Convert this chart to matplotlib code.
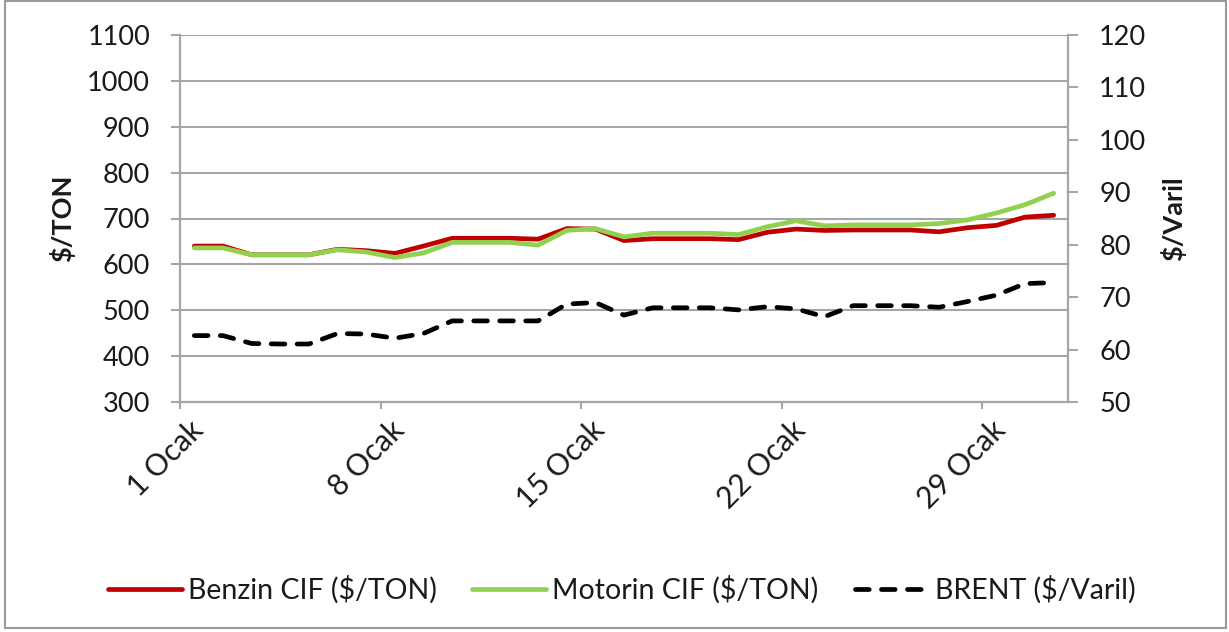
import matplotlib
matplotlib.use('Agg')
import matplotlib.pyplot as plt
import matplotlib.transforms as mtransforms
from matplotlib.patches import Rectangle
import numpy as np

# ---- data (January, daily) ----
days = list(range(1, 32))
benzin = [640, 640, 621, 621, 621, 633, 630, 624, 640, 657, 657, 657, 655, 678, 677,
          652, 656, 656, 656, 654, 670, 677, 674, 675, 675, 675, 671, 680, 685, 703, 707]
motorin = [636, 636, 621, 621, 621, 632, 627, 615, 625, 648, 648, 648, 642, 674, 678,
           660, 668, 668, 668, 665, 682, 695, 684, 686, 686, 686, 689, 697, 712, 730, 755]
brent = [62.7, 62.7, 61.2, 61.1, 61.1, 63.1, 63.0, 62.2, 63.1, 65.5, 65.5, 65.5, 65.5, 68.7, 69.0,
         66.6, 68.0, 68.0, 68.0, 67.6, 68.2, 67.8, 66.3, 68.4, 68.4, 68.4, 68.1, 69.2, 70.4, 72.6, 72.8]
tick_days = [1, 8, 15, 22, 29]
tick_labels = ["1 Ocak", "8 Ocak", "15 Ocak", "22 Ocak", "29 Ocak"]
series_names = ["Benzin CIF ($/TON)", "Motorin CIF ($/TON)", "BRENT ($/Varil)"]
left_ticks = list(range(300, 1101, 100))
right_ticks = list(range(50, 121, 10))

plt.rcParams['font.family'] = ['Lato', 'DejaVu Sans']
FS = 19.5
FSX = 21.5
FSL = 20.5
GRAY = '#a6a6a6'
TXT = '#1a1a1a'
LW = 3.4

fig = plt.figure(figsize=(12.29, 6.32), dpi=100)
ax = fig.add_axes([180 / 1229, 1 - 402.3 / 632, 888 / 1229, 367.6 / 632])
ax2 = ax.twinx()

x = np.array(days) - 0.5  # centre of each day slot

l1, = ax.plot(x, benzin, color='#C00000', lw=LW, solid_capstyle='round', solid_joinstyle='round', zorder=3)
l2, = ax.plot(x, motorin, color='#92D050', lw=LW, solid_capstyle='round', solid_joinstyle='round', zorder=4)
l3, = ax2.plot(x, brent, color='black', lw=LW, dashes=(2.9, 2.6), dash_capstyle='round',
               solid_joinstyle='round')

ax.set_xlim(0, 31)
ax.set_ylim(300, 1100)
ax2.set_ylim(50, 120)
ax.set_yticks(left_ticks)
ax2.set_yticks(right_ticks)
ax.set_xticks([d - 1 for d in tick_days])
ax.set_xticklabels(tick_labels, rotation=45, ha='right', va='center', rotation_mode='anchor')

ax.yaxis.grid(True, color=GRAY, lw=1.5)
ax.set_axisbelow(True)

for a in (ax, ax2):
    for s in a.spines.values():
        s.set_color(GRAY)
        s.set_linewidth(1.5)
    a.spines['top'].set_visible(False)

ax.tick_params(axis='y', direction='out', length=6.5, width=1.5, color=GRAY, labelsize=FS,
               labelcolor=TXT, pad=15)
ax2.tick_params(axis='y', direction='out', length=7.5, width=1.5, color=GRAY, labelsize=FS,
                labelcolor=TXT, pad=15)
ax.tick_params(axis='x', direction='out', length=5, width=1.5, color=GRAY, labelsize=FSX,
               labelcolor=TXT, pad=11.5)

offset = mtransforms.ScaledTranslation(19 / 100, 0, fig.dpi_scale_trans)
for lab in ax.get_xticklabels():
    lab.set_transform(lab.get_transform() + offset)

ax.set_ylabel("$/TON", fontsize=FS, fontweight='bold', color=TXT)
ax.yaxis.set_label_coords(-0.118, 0.5)
ax2.set_ylabel("$/Varil", fontsize=FS, fontweight='bold', color=TXT, rotation=90)
ax2.yaxis.set_label_coords(1.1036, 0.5)

# legend entries placed individually (Excel-style spacing)
leg_x = [108, 472, 855]
for h, name, lx in zip([l1, l2, l3], series_names, leg_x):
    fig.legend([h], [name], loc='center left', bbox_to_anchor=(lx / 1229, 1 - 590 / 632),
               frameon=False, handlelength=2.6, handletextpad=0.2, borderpad=0,
               borderaxespad=0, fontsize=FSL, labelcolor=TXT)

fig.patches.append(Rectangle((5 / 1229, 4 / 632), 1221 / 1229, 627 / 632, transform=fig.transFigure,
                             fill=False, edgecolor='#9a9a9a', lw=1.5))

fig.savefig('out.png', dpi=100)
